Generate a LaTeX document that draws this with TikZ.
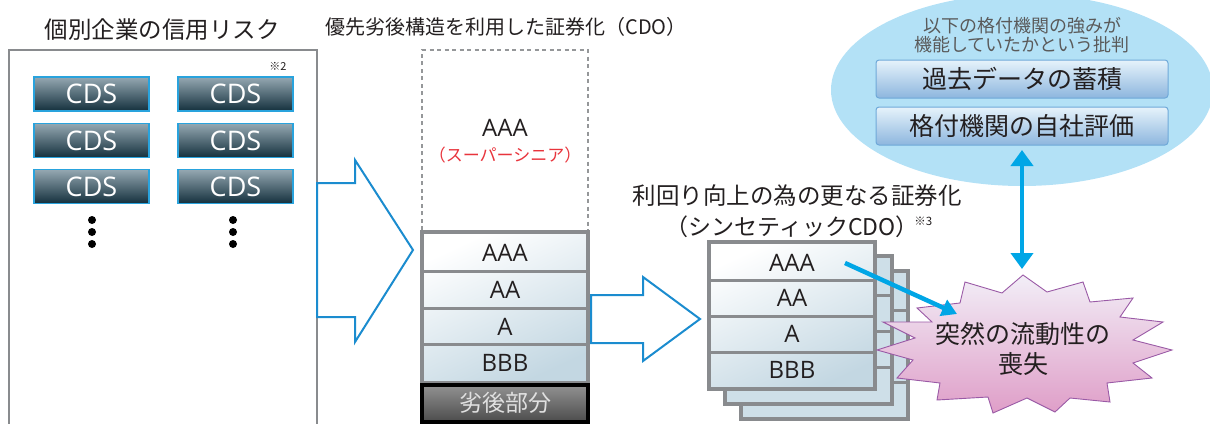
\documentclass[tikz,border=0pt]{standalone}
\usepackage{fontspec}
\setmainfont{Noto Sans CJK JP}
\newfontfamily\latinf{Open Sans}
\usetikzlibrary{arrows.meta,shapes.geometric}
\definecolor{framegray}{HTML}{898B8E}
\definecolor{txt}{HTML}{231F20}
\definecolor{cdsborder}{HTML}{29A3DD}
\definecolor{cdstop}{HTML}{95A8B2}
\definecolor{cdsbot}{HTML}{14303D}
\definecolor{arrowblue}{HTML}{1B8CCF}
\definecolor{cyanarrow}{HTML}{00A6E6}
\definecolor{tblue}{HTML}{C3D7E2}
\definecolor{backblue}{HTML}{CEDFE8}
\definecolor{ellfill}{HTML}{B3E1F6}
\definecolor{boxtop}{HTML}{E6F3FB}
\definecolor{boxbot}{HTML}{8DB6DE}
\definecolor{boxborder}{HTML}{6FA9D9}
\definecolor{burstborder}{HTML}{9A5AA6}
\definecolor{bursttop}{HTML}{F2EEF7}
\definecolor{burstbot}{HTML}{DF9EC8}
\definecolor{supred}{HTML}{E8343C}
\definecolor{ellgray}{HTML}{5A5A5A}
\newcommand\myfs[1]{\fontsize{#1}{#1}\selectfont}
\begin{document}
\begin{tikzpicture}[x=1pt,y=-1pt,
  every node/.style={text=txt},
  lbox/.style={draw=framegray, line width=2.5pt, minimum width=308pt, minimum height=375pt, inner sep=0pt},
  cds/.style={draw=cdsborder, line width=1.3pt, top color=cdstop, bottom color=cdsbot, minimum width=115pt, minimum height=34pt, inner sep=0pt, text=white, font=\latinf\myfs{27}},
  dotn/.style={circle, fill=black, minimum size=8pt, inner sep=0pt},
  bigarrow/.style={draw=arrowblue, line width=2pt, fill=white, line join=miter},
  tranche/.style={minimum width=162pt, minimum height=36pt, inner sep=0pt, font=\latinf\myfs{24}},
  divider/.style={draw=framegray, line width=3pt},
  frame/.style={draw=framegray, line width=4.5pt},
  cyanline/.style={draw=cyanarrow, line width=4.5pt},
  critbox/.style={draw=boxborder, line width=1pt, rounded corners=3pt, top color=boxtop, bottom color=boxbot, minimum width=292pt, minimum height=38pt, inner sep=0pt, font=\myfs{25}}
]
\useasboundingbox (0,0) rectangle (1210,423);

% ---------- left: individual credit risk ----------
\node[font=\myfs{23.5}] (t1) at (162,30) {個別企業の信用リスク};
\node[lbox] (leftbox) at (163,237.5) {};
\node[font=\myfs{11}] (n2) at (278,66) {※2};
\node[cds] (c11) at (91.5,94) {CDS};
\node[cds] (c12) at (235.5,94) {CDS};
\node[cds] (c21) at (91.5,140.5) {CDS};
\node[cds] (c22) at (235.5,140.5) {CDS};
\node[cds] (c31) at (91.5,186.5) {CDS};
\node[cds] (c32) at (235.5,186.5) {CDS};
\node[dotn] (d11) at (92,220) {};
\node[dotn] (d12) at (92,232) {};
\node[dotn] (d13) at (92,244) {};
\node[dotn] (d21) at (233,220) {};
\node[dotn] (d22) at (233,232) {};
\node[dotn] (d23) at (233,244) {};

% ---------- big arrow 1 ----------
\draw[bigarrow] (317,183) -- (355,183) -- (355,160) -- (413,250) -- (355,342) -- (355,317) -- (317,317) -- cycle;

% ---------- middle: CDO ----------
\node[font=\myfs{20}] (t2) at (506,27) {優先劣後構造を利用した証券化（CDO）};
\draw[draw=framegray!90, line width=2pt, dash pattern=on 4pt off 3.5pt] (422,230) -- (422,50) -- (588,50) -- (588,230);
\node[font=\latinf\myfs{24}] (sup1) at (505,128) {AAA};
\node[font=\myfs{17}, text=supred] (sup2) at (505,155) {（スーパーシニア）};

\shade[top color=white, bottom color=tblue, shading angle=25] (424,234) rectangle (586,381);
\node[tranche] (m1) at (505,252.5) {AAA};
\node[tranche] (m2) at (505,290) {AA};
\node[tranche] (m3) at (505,326.5) {A};
\node[tranche] (m4) at (505,363) {BBB};
\draw[divider] (424,271.5) -- (586,271.5);
\draw[divider] (424,308.5) -- (586,308.5);
\draw[divider] (424,344.5) -- (586,344.5);
\draw[frame] (422,232) rectangle (588,383);
\node[draw=black, line width=4pt, top color=gray!85, bottom color=black!70, minimum width=166pt, minimum height=37pt, inner sep=0pt, text=white!88!black, font=\myfs{23}] (m5) at (505,403) {劣後部分};

% ---------- big arrow 2 ----------
\draw[bigarrow] (591,295) -- (643,295) -- (643,277) -- (700,319) -- (643,361) -- (643,343) -- (591,343) -- cycle;

% ---------- synthetic CDO ----------
\node[font=\myfs{23.5}] (st1) at (797,196) {利回り向上の為の更なる証券化};
\node[font=\myfs{23}] (st2) at (792,227) {（シンセティックCDO）};
\node[font=\myfs{11.5}, anchor=west, inner sep=0pt] (n3) at ([xshift=-8pt,yshift=6pt]st2.east) {※3};

\fill[backblue] (741,271) rectangle (908,419);
\foreach \yy in {310,346,382} \draw[divider] (741,\yy) -- (908,\yy);
\draw[frame] (741,271) rectangle (908,419);
\fill[backblue] (725,256) rectangle (892,404);
\foreach \yy in {295,331,367} \draw[divider] (725,\yy) -- (892,\yy);
\draw[frame] (725,256) rectangle (892,404);
\shade[top color=white, bottom color=tblue, shading angle=25] (709,242) rectangle (875,389);
\node[tranche] (s1) at (792,263) {AAA};
\node[tranche] (s2) at (792,298) {AA};
\node[tranche] (s3) at (792,334) {A};
\node[tranche] (s4) at (792,370) {BBB};
\draw[divider] (709,280) -- (875,280);
\draw[divider] (709,316) -- (875,316);
\draw[divider] (709,352) -- (875,352);
\draw[frame] (709,242) rectangle (875,389);

% ---------- ellipse of criticism ----------
\node[ellipse, fill=ellfill, minimum width=382pt, minimum height=192pt, inner sep=0pt] (ell) at (1022,90) {};
\node[font=\myfs{18}, text=ellgray, align=center] (et) at (1022,35) {以下の格付機関の強みが\\[1pt]機能していたかという批判};
\node[critbox] (b1) at (1022,79) {過去データの蓄積};
\node[critbox] (b2) at (1022,126) {格付機関の自社評価};

% ---------- starburst ----------
\draw[draw=burstborder, line width=0.9pt, top color=bursttop, bottom color=burstbot, line join=miter]
  (1023,275) -- (1002,293) -- (965,282) -- (960,303) -- (917,308) -- (932,322) -- (883,322) -- (915,338)
  -- (877,350) -- (913,360) -- (897,378) -- (940,383) -- (937,400) -- (988,397) -- (993,413) -- (1027,398)
  -- (1055,412) -- (1070,398) -- (1110,402) -- (1107,383) -- (1152,378) -- (1133,363) -- (1172,350)
  -- (1133,340) -- (1163,322) -- (1120,317) -- (1133,298) -- (1090,302) -- (1083,282) -- (1047,292) -- cycle;
\node[font=\myfs{25}, align=center] (burst) at (1023,349) {突然の流動性の\\[5pt]喪失};

% ---------- connectors ----------
\coordinate (ua) at (1022,150);
\coordinate (ub) at (1022,269);
\draw[cyanline, {Triangle[width=22pt,length=16pt]}-{Triangle[width=22pt,length=16pt]}] (ua) -- (ub);
\coordinate (aa) at (845,263);
\coordinate (ab) at (957,314);
\draw[cyanline, -{Triangle[width=17pt,length=15pt]}] (aa) -- (ab);
\end{tikzpicture}
\end{document}
